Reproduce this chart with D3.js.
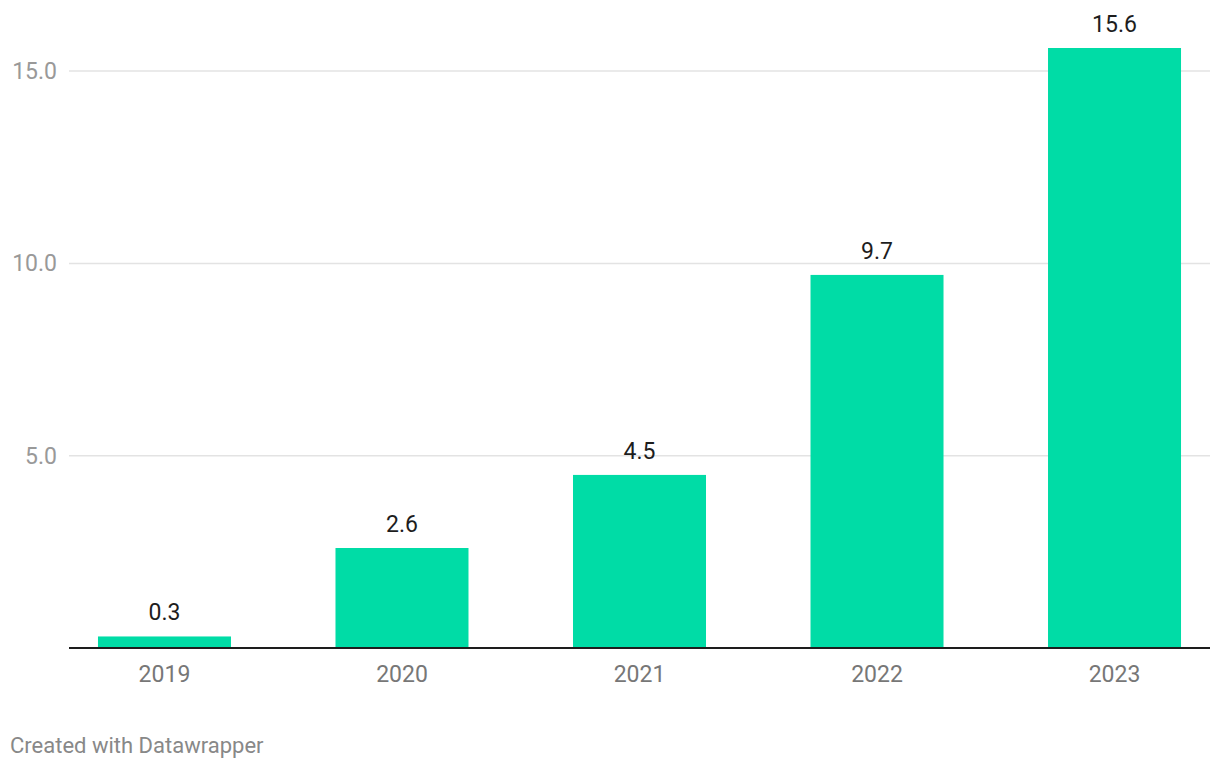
<!DOCTYPE html>
<html lang="en">
<head>
  <meta charset="UTF-8">
  <title>Bar chart</title>
  <style>
    body {
      margin: 0;
      padding: 0;
      background: #fff;
      font-family: Roboto, 'Noto Sans', sans-serif;
    }
    svg { display: block; }
    .grid line { stroke: #e3e3e3; stroke-width: 1.5px; }
    .ytick { fill: #999; font-size: 23px; }
    .xtick { fill: #777; font-size: 23px; }
    .value { fill: #1d1d1d; font-size: 23px; }
    .footer { fill: #888; font-size: 22px; }
  </style>
</head>
<body>
  <svg></svg>

  <script src="https://cdnjs.cloudflare.com/ajax/libs/d3/7.8.5/d3.min.js"></script>
  <script>
    const years = ["2019", "2020", "2021", "2022", "2023"];
    const values = [0.3, 2.6, 4.5, 9.7, 15.6];
    const yTicks = [5, 10, 15];

    const width = 1220, height = 770;
    const plotLeft = 69, plotRight = 1210, plotTop = 48, plotBottom = 648;

    const svg = d3.select("svg")
      .attr("width", width)
      .attr("height", height);

    const x = d3.scaleBand()
      .domain(years)
      .range([plotLeft, plotRight])
      .paddingInner(0.44)
      .paddingOuter(0.122);

    // 15.6 reaches top of plot area
    const y = d3.scaleLinear()
      .domain([0, 15.6])
      .range([plotBottom, plotTop]);

    // gridlines
    svg.append("g")
      .attr("class", "grid")
      .selectAll("line")
      .data(yTicks)
      .join("line")
      .attr("x1", plotLeft)
      .attr("x2", plotRight)
      .attr("y1", d => y(d))
      .attr("y2", d => y(d));

    svg.append("g")
      .selectAll("text")
      .data(yTicks)
      .join("text")
      .attr("class", "ytick")
      .attr("x", 57)
      .attr("y", d => y(d))
      .attr("dy", "0.35em")
      .attr("text-anchor", "end")
      .text(d => d3.format(".1f")(d));

    // bars
    svg.append("g")
      .selectAll("rect")
      .data(values)
      .join("rect")
      .attr("x", (d, i) => x(years[i]))
      .attr("width", x.bandwidth())
      .attr("y", d => y(d))
      .attr("height", d => plotBottom - y(d))
      .attr("fill", "#00dca6");

    svg.append("g")
      .selectAll("text")
      .data(values)
      .join("text")
      .attr("class", "value")
      .attr("x", (d, i) => x(years[i]) + x.bandwidth() / 2)
      .attr("y", d => y(d) - 16)
      .attr("text-anchor", "middle")
      .text(d => d3.format(".1f")(d));

    // baseline
    svg.append("line")
      .attr("x1", plotLeft)
      .attr("x2", plotRight)
      .attr("y1", plotBottom)
      .attr("y2", plotBottom)
      .attr("stroke", "#1d1d1d")
      .attr("stroke-width", 2);

    svg.append("g")
      .selectAll("text")
      .data(years)
      .join("text")
      .attr("class", "xtick")
      .attr("x", d => x(d) + x.bandwidth() / 2)
      .attr("y", 674)
      .attr("dy", "0.35em")
      .attr("text-anchor", "middle")
      .text(d => d);

    svg.append("text")
      .attr("class", "footer")
      .attr("x", 10)
      .attr("y", 753)
      .text("Created with Datawrapper");
  </script>
</body>
</html>
